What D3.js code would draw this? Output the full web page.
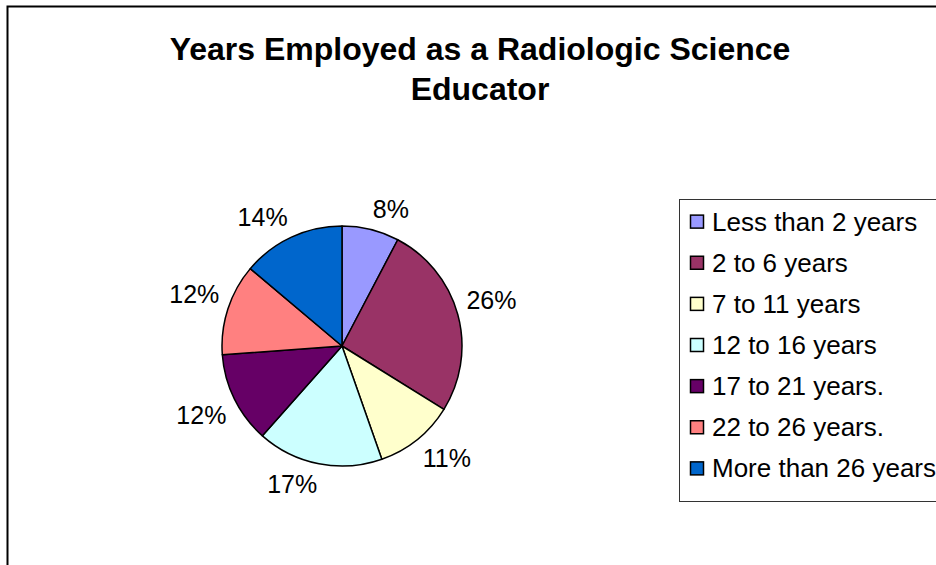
<!DOCTYPE html>
<html>
<head>
<meta charset="utf-8">
<script src="https://cdn.jsdelivr.net/npm/d3@7"></script>
<style>
  body { margin: 0; background: #fff; }
  svg { display: block; font-family: "Liberation Sans", Arial, sans-serif; }
</style>
</head>
<body>
<svg width="936" height="565"></svg>
<script>
const svg = d3.select("svg");

// DATA
const categories = ["Less than 2 years", "2 to 6 years", "7 to 11 years", "12 to 16 years",
    "17 to 21 years.", "22 to 26 years.", "More than 26 years"];
const counts = [5, 17, 7, 11, 8, 8, 9];
const colors = ["#9999FF", "#993366", "#FFFFCC", "#CCFFFF", "#660066", "#FF8080", "#0066CC"];
const titleLines = ["Years Employed as a Radiologic Science", "Educator"];

const data = categories.map((c, i) => ({ name: c, value: counts[i] }));
const total = d3.sum(counts);

// FRAME
svg.append("rect")
    .attr("x", 7.5).attr("y", 6.5)
    .attr("width", 940).attr("height", 580)
    .attr("fill", "none")
    .attr("stroke", "#000")
    .attr("stroke-width", 2);

// TITLE
svg.append("text")
    .attr("x", 480)
    .attr("y", 60)
    .attr("text-anchor", "middle")
    .attr("font-size", "32px")
    .attr("font-weight", "bold")
    .selectAll("tspan")
    .data(titleLines)
    .join("tspan")
    .attr("x", 480)
    .attr("dy", (d, i) => i === 0 ? 0 : 40)
    .text(d => d);

// SCALE
const color = d3.scaleOrdinal().domain(categories).range(colors);

// PIE
const cx = 342, cy = 346, radius = 120;
const pie = d3.pie().value(d => d.value).sort(null);
const arc = d3.arc().innerRadius(0).outerRadius(radius);
const arcs = pie(data);

const chart = svg.append("g")
    .attr("transform", `translate(${cx},${cy})`);

chart.selectAll("path")
    .data(arcs)
    .join("path")
    .attr("d", arc)
    .attr("fill", d => color(d.data.name))
    .attr("stroke", "#000")
    .attr("stroke-width", 1.5)
    .attr("stroke-linejoin", "round");

// LABELS
const labelR = 129;
const labels = chart.selectAll("text.label")
    .data(arcs)
    .join("text")
    .attr("class", "label")
    .attr("font-size", "25px")
    .attr("text-anchor", "middle")
    .attr("dy", "0.35em")
    .text(d => Math.round(d.data.value / total * 100) + "%");

labels.each(function (d) {
    const a = (d.startAngle + d.endAngle) / 2;
    const box = this.getBBox();
    const sx = Math.sin(a), sy = -Math.cos(a);
    const x = labelR * sx + Math.sign(sx) * box.width / 2;
    const y = labelR * sy + Math.sign(sy) * 12;
    d3.select(this).attr("x", x).attr("y", y);
});

// LEGEND
const legend = svg.append("g")
    .attr("transform", "translate(679,199)");

legend.append("rect")
    .attr("x", 0.5).attr("y", 0.5)
    .attr("width", 300).attr("height", 302)
    .attr("fill", "#fff")
    .attr("stroke", "#333")
    .attr("stroke-width", 1);

const rowY = d3.scaleBand()
    .domain(categories)
    .range([0, 292])
    .paddingOuter(0.05);

const items = legend.selectAll("g.item")
    .data(categories)
    .join("g")
    .attr("class", "item")
    .attr("transform", d => `translate(0,${rowY(d) + rowY.bandwidth() / 2})`);

items.append("rect")
    .attr("x", 11.5).attr("y", -6.5)
    .attr("width", 13).attr("height", 13)
    .attr("fill", d => color(d))
    .attr("stroke", "#000")
    .attr("stroke-width", 1.5);

items.append("text")
    .attr("x", 33)
    .attr("y", 9)
    .attr("font-size", "26px")
    .text(d => d);
</script>
</body>
</html>
